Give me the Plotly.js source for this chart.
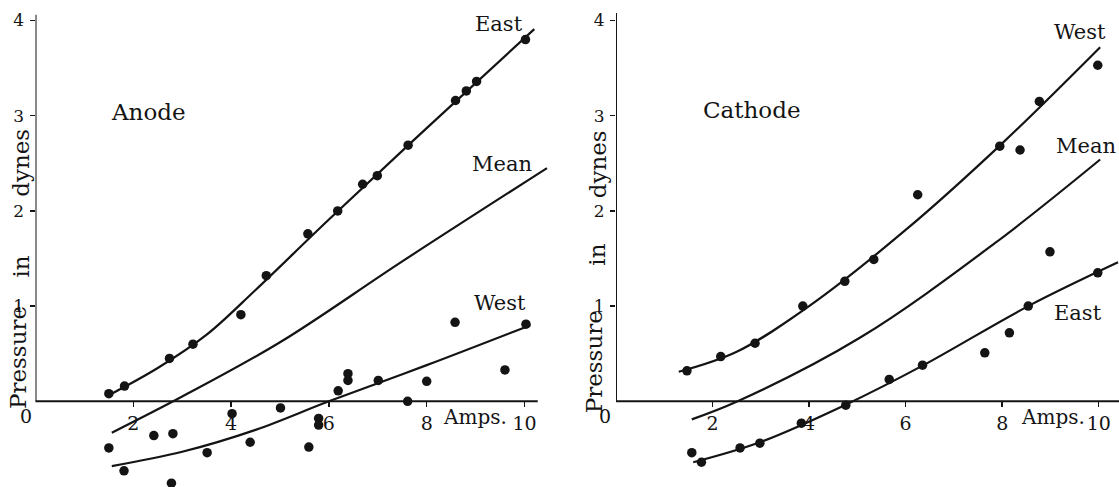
<!DOCTYPE html>
<html>
<head>
<meta charset="utf-8">
<script src="https://cdn.plot.ly/plotly-3.0.1.min.js"></script>
<style>html,body{margin:0;padding:0;background:#fff;}#chart{width:1119px;height:487px;}</style>
</head>
<body>
<div id="chart"></div>
<script>
// ---------- Anode (left panel) ----------
const anodeEastX = [1.50,1.82,2.74,3.22,4.20,4.72,5.57,6.18,6.69,6.99,7.62,8.59,8.81,9.02,10.02];
const anodeEastY = [0.08,0.16,0.45,0.60,0.91,1.32,1.76,2.00,2.28,2.37,2.69,3.16,3.26,3.36,3.80];
const anodeWestX = [1.50,1.81,2.42,2.81,2.78,3.51,4.02,4.39,5.01,5.59,5.79,5.79,6.19,6.39,6.39,7.01,7.61,8.00,8.58,9.60,10.03];
const anodeWestY = [-0.49,-0.73,-0.36,-0.34,-0.86,-0.54,-0.13,-0.43,-0.07,-0.48,-0.18,-0.25,0.11,0.29,0.22,0.22,0.00,0.21,0.83,0.33,0.81];
const anodeEastCurveX = [1.52,2.5,3.5,4.5,6.0,8.0,10.2];
const anodeEastCurveY = [0.07,0.35,0.70,1.17,1.91,2.87,3.91];
const anodeMeanCurveX = [1.56,3.0,5.0,7.5,10.46];
const anodeMeanCurveY = [-0.33,0.05,0.62,1.47,2.45];
const anodeWestCurveX = [1.56,3.0,4.5,6.0,8.0,10.12];
const anodeWestCurveY = [-0.68,-0.53,-0.30,0.00,0.38,0.80];

// ---------- Cathode (right panel) ----------
const cathodeWestX = [1.47,2.17,2.88,3.87,4.74,5.34,6.25,7.95,8.37,8.77,9.98];
const cathodeWestY = [0.32,0.47,0.61,1.00,1.26,1.49,2.17,2.68,2.64,3.15,3.53];
const cathodeEastX = [1.57,1.77,2.57,2.98,3.84,4.76,5.66,6.35,7.64,8.15,8.54,8.99,9.98];
const cathodeEastY = [-0.54,-0.64,-0.49,-0.44,-0.23,-0.04,0.23,0.38,0.51,0.72,1.00,1.57,1.35];
const cathodeWestCurveX = [1.30,2.5,4.0,6.0,8.0,10.03];
const cathodeWestCurveY = [0.31,0.52,1.00,1.80,2.71,3.72];
const cathodeMeanCurveX = [1.57,2.52,5.06,7.82,10.03];
const cathodeMeanCurveY = [-0.19,0.00,0.67,1.65,2.54];
const cathodeEastCurveX = [1.60,2.98,4.78,6.37,8.54,10.40];
const cathodeEastCurveY = [-0.64,-0.43,-0.03,0.38,1.00,1.46];

// ---------- Ticks / labels ----------
const xTickVals = [2,4,6,8,10];
const xTickText = ['2','4','6','8','10'];
const yTickVals = [1,2,3,4];
const yTickText = ['1','2','3','4'];
const panelNames = ['Anode','Cathode'];
const yTitleWords = ['Pressure','in','dynes'];

const INK = '#141414';
const SERIF = 'DejaVu Serif, Liberation Serif, serif';

function pts(x, y, xa, ya) {
  return {x: x, y: y, xaxis: xa, yaxis: ya, mode: 'markers', type: 'scatter',
    marker: {color: INK, size: 9.5}, hoverinfo: 'skip', cliponaxis: false};
}
function curve(x, y, xa, ya) {
  return {x: x, y: y, xaxis: xa, yaxis: ya, mode: 'lines', type: 'scatter',
    line: {color: INK, width: 2.2, shape: 'spline', smoothing: 1}, hoverinfo: 'skip'};
}

const data = [
  curve(anodeEastCurveX, anodeEastCurveY, 'x', 'y'),
  curve(anodeMeanCurveX, anodeMeanCurveY, 'x', 'y'),
  curve(anodeWestCurveX, anodeWestCurveY, 'x', 'y'),
  pts(anodeEastX, anodeEastY, 'x', 'y'),
  pts(anodeWestX, anodeWestY, 'x', 'y'),
  curve(cathodeWestCurveX, cathodeWestCurveY, 'x2', 'y2'),
  curve(cathodeMeanCurveX, cathodeMeanCurveY, 'x2', 'y2'),
  curve(cathodeEastCurveX, cathodeEastCurveY, 'x2', 'y2'),
  pts(cathodeWestX, cathodeWestY, 'x2', 'y2'),
  pts(cathodeEastX, cathodeEastY, 'x2', 'y2')
];

const YRANGE = [-0.9, 4.1];
const X1RANGE = [0, 10.8];
const X2RANGE = [0, 10.42];
const zeroPos = (0 - YRANGE[0]) / (YRANGE[1] - YRANGE[0]);

function xAxis(domain, range) {
  return {domain: domain, range: range, anchor: 'free', position: zeroPos,
    showline: false, ticks: 'outside', ticklen: 5,
    tickwidth: 1.5, tickcolor: INK, tickvals: xTickVals, ticktext: xTickText,
    showgrid: false, zeroline: false, fixedrange: true,
    tickfont: {family: SERIF, size: 19, color: INK}};
}
function yAxis(anchor) {
  return {domain: [0, 1], range: YRANGE, anchor: anchor, showline: false,
    ticks: 'outside', ticklen: 5, tickwidth: 1.5, tickcolor: INK, ticklabelstandoff: 2,
    tickvals: yTickVals, ticktext: yTickText, showgrid: false, zeroline: false,
    fixedrange: true, tickfont: {family: SERIF, size: 17, color: INK}};
}

function ann(text, xa, ya, x, y, size, extra) {
  return Object.assign({text: text, xref: xa, yref: ya, x: x, y: y, showarrow: false,
    xanchor: 'center', yanchor: 'middle', font: {family: SERIF, size: size, color: INK}}, extra || {});
}

const annotations = [
  ann(panelNames[0], 'x', 'y', 2.32, 3.04, 23),
  ann('East', 'x', 'y', 9.47, 3.96, 21),
  ann('Mean', 'x', 'y', 9.54, 2.49, 21),
  ann('West', 'x', 'y', 9.49, 1.03, 21),
  ann('Amps.', 'x', 'y', 8.29, -0.16, 20, {xanchor: 'left'}),
  ann('0', 'x', 'y', 0, 0, 19, {xshift: -10, yshift: -15}),
  ann(yTitleWords[0], 'x', 'y', 0, 0.46, 23, {textangle: -90, xshift: -18}),
  ann(yTitleWords[1], 'x', 'y', 0, 1.41, 23, {textangle: -90, xshift: -14}),
  ann(yTitleWords[2], 'x', 'y', 0, 2.50, 23, {textangle: -90, xshift: -14}),

  ann(panelNames[1], 'x2', 'y2', 2.82, 3.06, 23),
  ann('West', 'x2', 'y2', 9.62, 3.88, 21),
  ann('Mean', 'x2', 'y2', 9.73, 2.68, 21),
  ann('East', 'x2', 'y2', 9.58, 0.93, 21),
  ann('Amps.', 'x2', 'y2', 8.35, -0.16, 20, {xanchor: 'left'}),
  ann('0', 'x2', 'y2', 0, 0, 19, {xshift: -11, yshift: -15}),
  ann(yTitleWords[0], 'x2', 'y2', 0, 0.41, 23, {textangle: -90, xshift: -22}),
  ann(yTitleWords[1], 'x2', 'y2', 0, 1.54, 23, {textangle: -90, xshift: -19}),
  ann(yTitleWords[2], 'x2', 'y2', 0, 2.49, 23, {textangle: -90, xshift: -18})
];

// axis spines (drawn only over the span the original axes cover)
const spine = {color: INK, width: 2};
const shapes = [
  {type: 'line', xref: 'x', yref: 'y domain', x0: 0, x1: 0, y0: zeroPos, y1: 0.992, line: spine},
  {type: 'line', xref: 'x domain', yref: 'y', x0: 0, x1: 0.951, y0: 0, y1: 0, line: spine},
  {type: 'line', xref: 'x2', yref: 'y2 domain', x0: 0, x1: 0, y0: zeroPos, y1: 0.996, line: spine},
  {type: 'line', xref: 'x2 domain', yref: 'y2', x0: 0, x1: 1, y0: 0, y1: 0, line: spine}
];

const layout = {
  width: 1119, height: 487,
  margin: {l: 0, r: 0, t: 11, b: 0},
  paper_bgcolor: '#ffffff', plot_bgcolor: '#ffffff',
  showlegend: false,
  xaxis: xAxis([35.5/1119, (35.5 + 10.8*48.9)/1119], X1RANGE),
  yaxis: yAxis('x'),
  xaxis2: xAxis([616/1119, 1], X2RANGE),
  yaxis2: yAxis('x2'),
  shapes: shapes,
  annotations: annotations
};

Plotly.newPlot('chart', data, layout, {displayModeBar: false, staticPlot: true});
</script>
</body>
</html>
